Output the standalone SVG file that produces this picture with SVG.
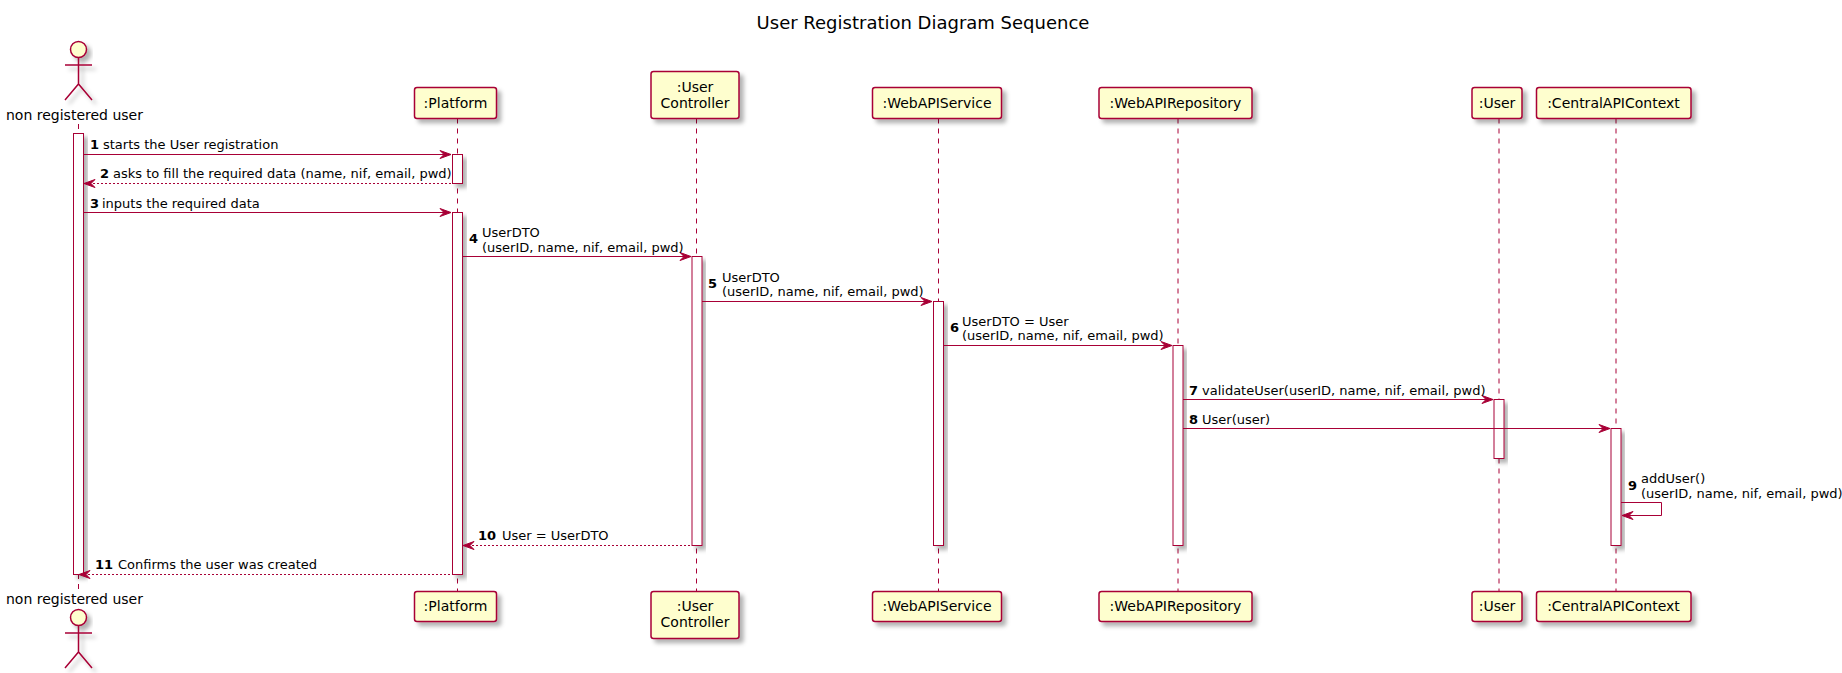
<svg xmlns="http://www.w3.org/2000/svg" xmlns:xlink="http://www.w3.org/1999/xlink" width="1842" height="673" viewBox="0 0 1842 673">
<style>
text{font-family:"DejaVu Sans",sans-serif;fill:#000}
.t{font-size:18px}
.p{font-size:14px;text-anchor:middle}
.a{font-size:14px}
.m{font-size:13px}
.n{font-size:13px;font-weight:bold}
.box{fill:#FEFECE;stroke:#A80036;stroke-width:1.5;filter:url(#sh)}
.act{fill:#fff;stroke:#A80036;stroke-width:1;filter:url(#sh)}
.life{stroke:#A80036;stroke-width:1;stroke-dasharray:5 5;fill:none}
.fig{fill:none;stroke:#A80036;stroke-width:1.5;filter:url(#sh)}
.head{fill:#FEFECE;stroke:#A80036;stroke-width:1.5;filter:url(#sh)}
.s{stroke:#A80036;stroke-width:1;fill:none}
.d{stroke:#A80036;stroke-width:1;fill:none;stroke-dasharray:2 2}
.ah{fill:#A80036;stroke:#A80036;stroke-width:1}
</style>
<defs>
<filter id="sh" x="-30%" y="-30%" width="170%" height="170%"><feGaussianBlur in="SourceAlpha" stdDeviation="2"/><feColorMatrix type="matrix" values="0 0 0 0 0 0 0 0 0 0 0 0 0 0 0 0 0 0 .3 0"/><feOffset dx="4" dy="4"/><feMerge><feMergeNode/><feMergeNode in="SourceGraphic"/></feMerge></filter>
<polygon id="ar" class="ah" points="0,0 -11,-4 -7,0 -11,4"/>
<polygon id="al" class="ah" points="0,0 11,-4 7,0 11,4"/>
<g id="actor"><circle class="head" cx="0" cy="0" r="8"/><path class="fig" d="M0,8V34.500M-13.500,15.500H13.500M-13.500,50.500L0,34.500L13.500,50.500"/></g>
</defs>
<text class="t" x="923" y="29" text-anchor="middle">User Registration Diagram Sequence</text>
<g id="connectors">
<path class="life" d="M78.500,124V591"/>
<path class="life" d="M457.500,118.500V591"/>
<path class="life" d="M696.500,118.500V591"/>
<path class="life" d="M938.500,118.500V591"/>
<path class="life" d="M1178,118.500V591"/>
<path class="life" d="M1499,118.500V591"/>
<path class="life" d="M1616,118.500V591"/>
<rect class="act" x="73.500" y="133.500" width="10" height="441"/>
<rect class="act" x="452.500" y="154.500" width="10" height="29"/>
<rect class="act" x="452.500" y="212.500" width="10" height="362"/>
<rect class="act" x="692" y="256.500" width="10" height="289"/>
<rect class="act" x="933.500" y="301.500" width="10" height="244"/>
<rect class="act" x="1173" y="345.500" width="10" height="200"/>
<rect class="act" x="1494" y="399.500" width="10" height="59"/>
<rect class="act" x="1611" y="428.500" width="10" height="117"/>
<path class="s" d="M83.500,154.500H451"/><use href="#ar" x="451" y="154.500"/>
<path class="d" d="M85,183.500H452"/><use href="#al" x="84" y="183.500"/>
<path class="s" d="M83.500,212.500H451"/><use href="#ar" x="451" y="212.500"/>
<path class="s" d="M462.500,256.500H691"/><use href="#ar" x="691" y="256.500"/>
<path class="s" d="M702,301.500H932"/><use href="#ar" x="932" y="301.500"/>
<path class="s" d="M943.500,345.500H1172"/><use href="#ar" x="1172" y="345.500"/>
<path class="s" d="M1183,399.500H1493"/><use href="#ar" x="1493" y="399.500"/>
<path class="s" d="M1183,428.500H1610"/><use href="#ar" x="1610" y="428.500"/>
<path class="s" d="M1621,502.500H1661.500V515.500H1622"/><use href="#al" x="1622" y="515.500"/>
<path class="d" d="M464,545.500H692"/><use href="#al" x="463" y="545.500"/>
<path class="d" d="M80,574.500H452"/><use href="#al" x="79" y="574.500"/>
<g id="labels">
<text class="n" x="90" y="149">1</text><text class="m" x="103" y="149">starts the User registration</text>
<text class="n" x="100" y="178">2</text><text class="m" x="113" y="178">asks to fill the required data (name, nif, email, pwd)</text>
<text class="n" x="90" y="208">3</text><text class="m" x="102" y="208">inputs the required data</text>
<text class="n" x="469" y="243">4</text><text class="m" x="482" y="237">UserDTO</text><text class="m" x="482" y="252">(userID, name, nif, email, pwd)</text>
<text class="n" x="708" y="288">5</text><text class="m" x="722" y="282">UserDTO</text><text class="m" x="722" y="296">(userID, name, nif, email, pwd)</text>
<text class="n" x="950" y="332">6</text><text class="m" x="962" y="326">UserDTO = User</text><text class="m" x="962" y="340">(userID, name, nif, email, pwd)</text>
<text class="n" x="1189" y="395">7</text><text class="m" x="1202" y="395">validateUser(userID, name, nif, email, pwd)</text>
<text class="n" x="1189" y="424">8</text><text class="m" x="1202" y="424">User(user)</text>
<text class="n" x="1628" y="490">9</text><text class="m" x="1641" y="483">addUser()</text><text class="m" x="1641" y="498">(userID, name, nif, email, pwd)</text>
<text class="n" x="478" y="540">10</text><text class="m" x="502" y="540">User = UserDTO</text>
<text class="n" x="95" y="569">11</text><text class="m" x="118" y="569">Confirms the user was created</text>
</g>
</g>
<g id="actor-top"><use href="#actor" x="78.500" y="49.500"/><text class="a" x="6" y="120">non registered user</text></g>
<g id="actor-bottom"><use href="#actor" x="78.500" y="617.500"/><text class="a" x="6" y="604">non registered user</text></g>
<g id="platform-top"><rect class="box" x="414.500" y="87.500" width="82" height="31" rx="2.500"/><text class="p" x="455.500" y="108">:Platform</text></g>
<g id="platform-bottom"><rect class="box" x="414.500" y="591.500" width="82" height="30" rx="2.500"/><text class="p" x="455.500" y="611">:Platform</text></g>
<g id="controller-top"><rect class="box" x="651" y="71.500" width="88" height="47" rx="2.500"/><text class="p" x="695" y="92">:User</text><text class="p" x="695" y="108">Controller</text></g>
<g id="controller-bottom"><rect class="box" x="651" y="591.500" width="88" height="47" rx="2.500"/><text class="p" x="695" y="611">:User</text><text class="p" x="695" y="627">Controller</text></g>
<g id="service-top"><rect class="box" x="872.500" y="87.500" width="129" height="31" rx="2.500"/><text class="p" x="937" y="108">:WebAPIService</text></g>
<g id="service-bottom"><rect class="box" x="872.500" y="591.500" width="129" height="30" rx="2.500"/><text class="p" x="937" y="611">:WebAPIService</text></g>
<g id="repo-top"><rect class="box" x="1099" y="87.500" width="153" height="31" rx="2.500"/><text class="p" x="1175.500" y="108">:WebAPIRepository</text></g>
<g id="repo-bottom"><rect class="box" x="1099" y="591.500" width="153" height="30" rx="2.500"/><text class="p" x="1175.500" y="611">:WebAPIRepository</text></g>
<g id="user-top"><rect class="box" x="1472" y="87.500" width="50" height="31" rx="2.500"/><text class="p" x="1497" y="108">:User</text></g>
<g id="user-bottom"><rect class="box" x="1472" y="591.500" width="50" height="30" rx="2.500"/><text class="p" x="1497" y="611">:User</text></g>
<g id="context-top"><rect class="box" x="1536.500" y="87.500" width="154.500" height="31" rx="2.500"/><text class="p" x="1613.500" y="108">:CentralAPIContext</text></g>
<g id="context-bottom"><rect class="box" x="1536.500" y="591.500" width="154.500" height="30" rx="2.500"/><text class="p" x="1613.500" y="611">:CentralAPIContext</text></g>
</svg>
